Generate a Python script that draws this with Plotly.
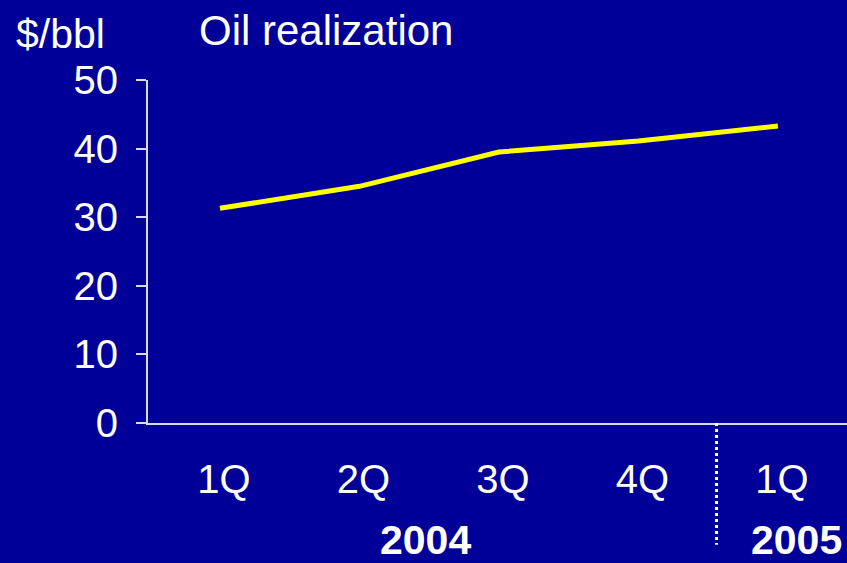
import plotly.graph_objects as go

quarters = ["1Q", "2Q", "3Q", "4Q", "1Q"]
years = ["2004", "2005"]
oil_realization = [31.3, 34.5, 39.5, 41.1, 43.3]
y_ticks = [0, 10, 20, 30, 40, 50]

BG = "#000099"
FONT = "Liberation Sans, Arial, sans-serif"
pos = list(range(len(quarters)))

fig = go.Figure()
fig.add_trace(
    go.Scatter(
        x=pos,
        y=oil_realization,
        mode="lines",
        line=dict(color="#ffff00", width=5),
        hoverinfo="skip",
    )
)

# dotted divider between the two years
fig.add_shape(
    type="line",
    xref="x",
    yref="paper",
    x0=3.56,
    x1=3.56,
    y0=0.0,
    y1=-0.355,
    line=dict(color="white", width=3, dash="dot"),
)

fig.add_annotation(
    text="$/bbl", xref="paper", yref="paper", x=-0.191, y=1.135,
    xanchor="left", yanchor="middle", showarrow=False,
    font=dict(family=FONT, size=41, color="white"),
)
fig.add_annotation(
    text="Oil realization", xref="paper", yref="paper", x=0.07, y=1.145,
    xanchor="left", yanchor="middle", showarrow=False,
    font=dict(family=FONT, size=42, color="white"),
)
fig.add_annotation(
    text=f"<b>{years[0]}</b>", xref="x", yref="paper", x=1.47, y=-0.34,
    xanchor="center", yanchor="middle", showarrow=False,
    font=dict(family=FONT, size=41, color="white"),
)
fig.add_annotation(
    text=f"<b>{years[1]}</b>", xref="paper", yref="paper", x=0.995, y=-0.34,
    xanchor="right", yanchor="middle", showarrow=False,
    font=dict(family=FONT, size=41, color="white"),
)

fig.update_layout(
    width=847,
    height=563,
    paper_bgcolor=BG,
    plot_bgcolor=BG,
    margin=dict(l=148, r=0, t=80, b=140),
    showlegend=False,
    font=dict(family=FONT, color="white"),
    xaxis=dict(
        range=[-0.516, 4.495],
        tickvals=pos,
        ticktext=quarters,
        tickfont=dict(size=40, color="white"),
        showgrid=False,
        zeroline=False,
        showline=True,
        linecolor="#d8d8ec",
        linewidth=2,
        ticks="",
        ticklabelstandoff=20,
        ticklabelshift=4,
    ),
    yaxis=dict(
        range=[0, 50],
        tickvals=y_ticks,
        tickfont=dict(size=40, color="white"),
        showgrid=False,
        zeroline=False,
        showline=True,
        linecolor="#d8d8ec",
        linewidth=2,
        ticks="outside",
        ticklen=10,
        tickwidth=2,
        tickcolor="#d8d8ec",
        ticklabelstandoff=10,
    ),
)

fig.write_html(
    "out.html",
    config={"displayModeBar": False},
    post_script="document.body.style.margin='0';",
)
